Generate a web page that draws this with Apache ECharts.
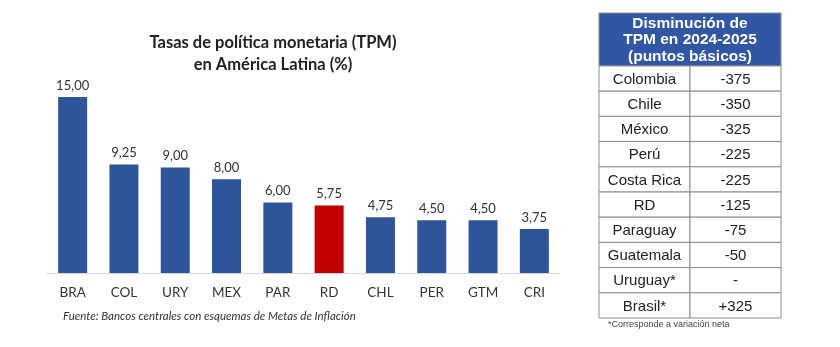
<!DOCTYPE html>
<html>
<head>
<meta charset="utf-8">
<script src="https://cdn.jsdelivr.net/npm/echarts@6/dist/echarts.min.js"></script>
<style>
  html, body { margin: 0; padding: 0; background: #fff; }
  #chart { width: 840px; height: 347px; }
</style>
</head>
<body>
<div id="chart"></div>
<script>
// Policy rates by country (%)
const categories = ['BRA', 'COL', 'URY', 'MEX', 'PAR', 'RD', 'CHL', 'PER', 'GTM', 'CRI'];
const rates = [15.00, 9.25, 9.00, 8.00, 6.00, 5.75, 4.75, 4.50, 4.50, 3.75];
const highlight = 'RD';

// Cumulative change in policy rate 2024-2025 (basis points)
const tableCountries = ['Colombia', 'Chile', 'México', 'Perú', 'Costa Rica', 'RD', 'Paraguay', 'Guatemala', 'Uruguay*', 'Brasil*'];
const tableChanges = [-375, -350, -325, -225, -225, -125, -75, -50, null, 325];
const tableColumns = ['country', 'change'];

const BLUE = '#2E5597';
const RED = '#C00000';
const HEAD = '#3056A4';
const GRID_LINE = '#8c8c8c';

const fmtRate = v => v.toFixed(2).replace('.', ',');
const fmtChange = v => v === null ? '-' : (v > 0 ? '+' + v : String(v));

const tableData = [];
tableCountries.forEach((c, i) => {
  tableData.push([0, i]);
  tableData.push([1, i]);
});

const chart = echarts.init(document.getElementById('chart'), null, { renderer: 'canvas' });

chart.setOption({
  backgroundColor: '#fff',
  animation: false,
  title: [
    {
      text: 'Tasas de política monetaria (TPM)\nen América Latina (%)',
      left: 268,
      top: 27,
      textAlign: 'center',
      textStyle: { fontFamily: 'Lato', fontSize: 16.5, fontWeight: 'bold', color: '#222', lineHeight: 22 }
    },
    {
      text: 'Fuente: Bancos centrales con esquemas de Metas de Inflación',
      left: 58,
      top: 305,
      textStyle: { fontFamily: 'Lato', fontSize: 11.5, fontStyle: 'italic', fontWeight: 'normal', color: '#333' }
    }
  ],
  grid: [
    { left: 47, right: 280, top: 97, bottom: 74 },
    { left: 599, right: 59, top: 66, bottom: 29 }
  ],
  xAxis: [
    {
      type: 'category',
      gridIndex: 0,
      data: categories,
      axisLine: { lineStyle: { color: '#d9d9d9', width: 1 } },
      axisTick: { show: false },
      axisLabel: { fontFamily: 'Lato', fontSize: 13.5, color: '#333', margin: 13 }
    },
    {
      type: 'category',
      gridIndex: 1,
      data: tableColumns,
      show: false
    }
  ],
  yAxis: [
    { type: 'value', gridIndex: 0, min: 0, max: 15, show: false, splitLine: { show: false } },
    { type: 'category', gridIndex: 1, data: tableCountries, inverse: true, show: false }
  ],
  series: [
    {
      type: 'bar',
      xAxisIndex: 0,
      yAxisIndex: 0,
      barWidth: 29,
      data: rates.map((v, i) => ({
        value: v,
        itemStyle: { color: categories[i] === highlight ? RED : BLUE }
      })),
      label: {
        show: true,
        position: 'top',
        distance: 5,
        formatter: p => fmtRate(p.value),
        fontFamily: 'Lato',
        fontSize: 13,
        color: '#333'
      }
    },
    {
      type: 'custom',
      xAxisIndex: 1,
      yAxisIndex: 1,
      data: tableData,
      renderItem: (params, api) => {
        const col = api.value(0);
        const row = api.value(1);
        const c = api.coord([col, row]);
        const s = api.size([1, 1]);
        const text = col === 0 ? tableCountries[row] : fmtChange(tableChanges[row]);
        return {
          type: 'group',
          children: [
            {
              type: 'rect',
              shape: { x: c[0] - s[0] / 2, y: c[1] - s[1] / 2, width: s[0], height: s[1] },
              style: { fill: '#fff', stroke: GRID_LINE, lineWidth: 1 }
            },
            {
              type: 'text',
              x: c[0],
              y: c[1] + 1,
              style: {
                text: text,
                align: 'center',
                verticalAlign: 'middle',
                fontFamily: 'Liberation Sans',
                fontSize: 15,
                fill: '#222'
              }
            }
          ]
        };
      }
    }
  ],
  graphic: [
    {
      type: 'rect',
      shape: { x: 599, y: 13, width: 182, height: 53 },
      style: { fill: HEAD, stroke: GRID_LINE, lineWidth: 1 }
    },
    {
      type: 'text',
      x: 690,
      y: 40,
      style: {
        text: 'Disminución de\nTPM en 2024-2025\n(puntos básicos)',
        align: 'center',
        verticalAlign: 'middle',
        fontFamily: 'Liberation Sans',
        fontSize: 15.5,
        fontWeight: 'bold',
        lineHeight: 16.5,
        fill: '#fff'
      }
    },
    {
      type: 'text',
      x: 608,
      y: 325,
      style: {
        text: '*Corresponde a variación neta',
        align: 'left',
        verticalAlign: 'middle',
        fontFamily: 'Liberation Sans',
        fontSize: 9,
        fill: '#444'
      }
    }
  ]
});
</script>
</body>
</html>
